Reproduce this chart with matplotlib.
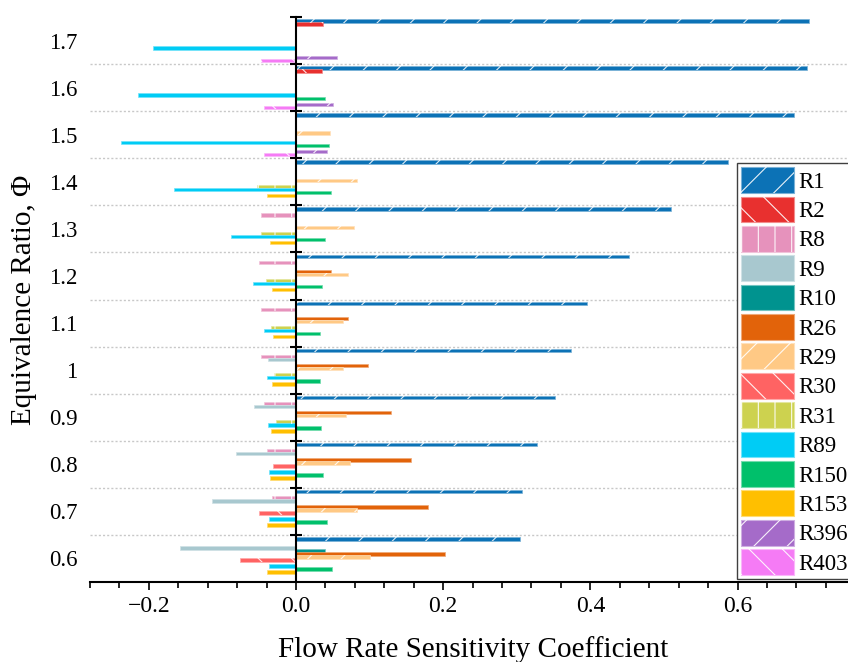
import numpy as np
import matplotlib.pyplot as plt
from matplotlib.patches import Patch
from matplotlib.legend_handler import HandlerTuple
from matplotlib.ticker import MultipleLocator
from matplotlib.colors import to_rgb

plt.rcParams['font.family'] = ['Liberation Serif', 'DejaVu Serif']
plt.rcParams['hatch.linewidth'] = 0.8

phi = [0.6, 0.7, 0.8, 0.9, 1.0, 1.1, 1.2, 1.3, 1.4, 1.5, 1.6, 1.7]
phi_labels = ['0.6', '0.7', '0.8', '0.9', '1', '1.1', '1.2', '1.3', '1.4', '1.5', '1.6', '1.7']

# sensitivity coefficients, phi = 0.6 ... 1.7
r1 = [0.305, 0.307, 0.328, 0.352, 0.374, 0.395, 0.453, 0.509, 0.587, 0.677, 0.694, 0.697]
r2 = [0, 0, 0, 0, 0, 0, 0, 0, 0, 0, 0.036, 0.037]
r8 = [0, -0.032, -0.040, -0.044, -0.047, -0.048, -0.050, -0.048, 0, 0, 0, 0]
r9 = [-0.158, -0.114, -0.082, -0.057, -0.038, 0, 0, 0, 0, 0, 0, 0]
r10 = [0.039, 0, 0, 0, 0, 0, 0, 0, 0, 0, 0, 0]
r26 = [0.203, 0.180, 0.156, 0.129, 0.098, 0.071, 0.047, 0, 0, 0, 0, 0]
r29 = [0.100, 0.083, 0.073, 0.068, 0.064, 0.064, 0.071, 0.079, 0.083, 0.046, 0, 0]
r30 = [-0.076, -0.050, -0.031, 0, 0, 0, 0, 0, 0, 0, 0, 0]
r31 = [0, 0, 0, -0.027, -0.030, -0.034, -0.041, -0.048, -0.053, 0, 0, 0]
r89 = [-0.037, -0.037, -0.037, -0.038, -0.040, -0.044, -0.058, -0.088, -0.166, -0.238, -0.215, -0.194]
r150 = [0.049, 0.042, 0.037, 0.034, 0.032, 0.032, 0.035, 0.040, 0.047, 0.045, 0.040, 0]
r153 = [-0.040, -0.039, -0.036, -0.034, -0.032, -0.031, -0.033, -0.036, -0.040, 0, 0, 0]
r396 = [0, 0, 0, 0, 0, 0, 0, 0, 0, 0.042, 0.050, 0.056]
r403 = [0, 0, 0, 0, 0, 0, 0, 0, 0, -0.043, -0.044, -0.047]

reactions = ['R1', 'R2', 'R8', 'R9', 'R10', 'R26', 'R29', 'R30', 'R31',
             'R89', 'R150', 'R153', 'R396', 'R403']
values = [r1, r2, r8, r9, r10, r26, r29, r30, r31, r89, r150, r153, r396, r403]
colors = ['#0C72B6', '#E8302F', '#E692BC', '#A8C8CF', '#00938F', '#E2630A', '#FFC985',
          '#FF6363', '#CDD24F', '#00CCF5', '#00C06B', '#FFBF00', '#A56BC9', '#F57BF5']
hatches = ['/', '\\', '|', None, None, None, '/', '\\', '|', None, None, None, '/', '\\']


def tint(c, f=0.45):
    r, g, b = to_rgb(c)
    return (r + (1 - r) * f, g + (1 - g) * f, b + (1 - b) * f)


fig = plt.figure(figsize=(8.48, 6.62), dpi=100)
ax = fig.add_axes([0.1061, 0.1208, 0.9033, 0.8535])

slot = 0.1 * 3.03 / 47
n = len(reactions)
handles = []
for i in range(n):
    y = np.array(phi) + (6.5 - i) * slot
    ax.barh(y, values[i], height=slot * 1.15, color=colors[i],
            edgecolor=tint(colors[i]), linewidth=0.5, zorder=2)
    solid = Patch(facecolor=colors[i], edgecolor=tint(colors[i]), linewidth=0.8)
    if hatches[i]:
        ax.barh(y, values[i], height=slot * 1.15, facecolor='none',
                edgecolor=(1, 1, 1, 0.85), linewidth=0, hatch=hatches[i], zorder=3)
        hp = Patch(facecolor='none', edgecolor=(1, 1, 1, 0.9), linewidth=0, hatch=hatches[i])
        handles.append((solid, hp))
    else:
        handles.append(solid)

ax.set_xlim(-0.28, 0.761)
ax.set_ylim(0.55, 1.75)

ax.xaxis.set_major_locator(MultipleLocator(0.2))
ax.xaxis.set_minor_locator(MultipleLocator(0.04))
ax.tick_params(axis='x', which='major', length=6, width=1.2, labelsize=17, pad=4)
ax.tick_params(axis='x', which='minor', length=4, width=1.2)

ax.set_yticks(phi, phi_labels)
ax.set_yticks(np.arange(0.65, 1.66, 0.1), minor=True)
ax.tick_params(axis='y', which='both', length=0, labelsize=16.5, pad=9)
ax.grid(axis='y', which='minor', color='#c8c8c8', linestyle=(0, (1.5, 1.5)), linewidth=1.0)
ax.set_axisbelow(True)

for s in ['left', 'top', 'right']:
    ax.spines[s].set_visible(False)
ax.spines['bottom'].set_linewidth(1.5)

ax.set_xlabel('Flow Rate Sensitivity Coefficient', fontsize=21, labelpad=14)
ax.set_ylabel('Equivalence Ratio, Φ', fontsize=21)
ax.yaxis.set_label_coords(-0.069, 0.5)

# zero line with ticks at the group boundaries
ax2 = ax.twinx()
ax2.set_ylim(ax.get_ylim())
for s in ['top', 'right', 'bottom']:
    ax2.spines[s].set_visible(False)
ax2.spines['left'].set_visible(True)
ax2.spines['left'].set_position(('data', 0))
ax2.spines['left'].set_linewidth(1.5)
ax2.yaxis.set_ticks_position('left')
ax2.set_yticks(np.arange(0.65, 1.76, 0.1))
ax2.tick_params(axis='y', direction='inout', length=8, width=1.5, labelleft=False, labelright=False)

leg = ax.legend(handles, reactions, handler_map={tuple: HandlerTuple(ndivide=1)},
                loc='upper left', bbox_to_anchor=(0.8691, 0.7538), bbox_transform=fig.transFigure,
                borderaxespad=0, fontsize=16.5, handlelength=2.3, handleheight=1.35,
                labelspacing=0.16, handletextpad=0.2, borderpad=0.18,
                fancybox=False, framealpha=1, edgecolor='#404040')
leg.get_frame().set_linewidth(1.0)

fig.savefig('out.png', dpi=100)
